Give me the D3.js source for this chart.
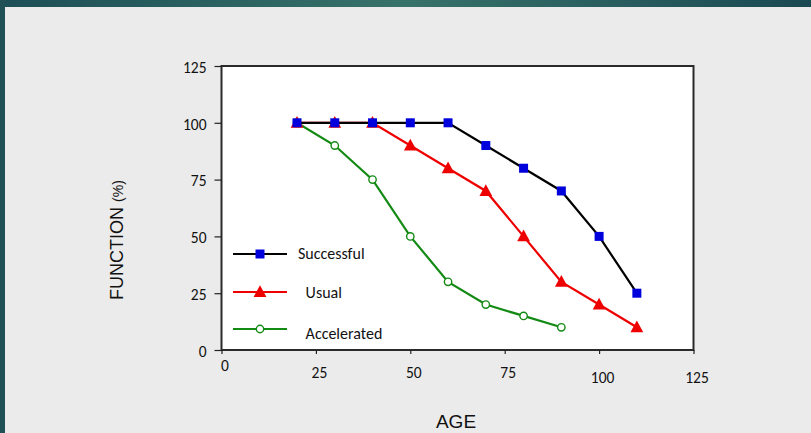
<!DOCTYPE html>
<html><head><meta charset="utf-8">
<script src="https://cdn.jsdelivr.net/npm/d3@7"></script>
<style>
html,body{margin:0;padding:0;background:#ebebeb;}
svg{display:block;}
</style></head>
<body>
<svg id="c" width="811" height="433"></svg>
<script>
// ---- data ----
const ages = [20, 30, 40, 50, 60, 70, 80, 90, 100, 110];
const successful = [100, 100, 100, 100, 100, 90, 80, 70, 50, 25];
const usual = [100, 100, 100, 90, 80, 70, 50, 30, 20, 10];
const accelerated = [100, 90, 75, 50, 30, 20, 15, 10];
const seriesNames = ["Successful", "Usual", "Accelerated"];
const xTicks = [0, 25, 50, 75, 100, 125];
const yTicks = [0, 25, 50, 75, 100, 125];

const svg = d3.select("#c");
const W = 811, H = 433;

// background & frame
const defs = svg.append("defs");
const g1 = defs.append("linearGradient").attr("id","topg").attr("x1","0").attr("x2","1");
g1.append("stop").attr("offset","0").attr("stop-color","#1d4f56");
g1.append("stop").attr("offset","0.5").attr("stop-color","#37726a");
g1.append("stop").attr("offset","1").attr("stop-color","#1b4953");
svg.append("rect").attr("x",0).attr("y",0).attr("width",W).attr("height",H).attr("fill","#ebebeb");
svg.append("rect").attr("x",0).attr("y",0).attr("width",W).attr("height",7).attr("fill","url(#topg)");
svg.append("rect").attr("x",0).attr("y",0).attr("width",5).attr("height",H).attr("fill","#1f5157");

const x = d3.scaleLinear().domain([0,125]).range([221.5,693.5]);
const y = d3.scaleLinear().domain([0,125]).range([350,66]);

// plot area
svg.append("rect").attr("x",x(0)).attr("y",y(125)).attr("width",x(125)-x(0)).attr("height",y(0)-y(125))
  .attr("fill","#ffffff").attr("stroke","#2a2a2a").attr("stroke-width",2);

const tickFont = "Carlito, Lato, 'Open Sans', sans-serif";

// y axis
const yAxis = d3.axisLeft(y).tickValues(yTicks).tickSize(7).tickPadding(8).tickSizeOuter(0);
const ya = svg.append("g").attr("transform",`translate(${x(0)},0)`).call(yAxis);
ya.select(".domain").remove();
ya.selectAll(".tick line").attr("stroke","#222").attr("stroke-width",1.2);
ya.selectAll(".tick text").attr("font-family",tickFont).attr("font-size",15.5).attr("fill","#111")
  .attr("dy","0.4em");

// x axis
const xLabelDrop = [0, 7, 7, 7, 12, 12];
const xAxis = d3.axisBottom(x).tickValues(xTicks).tickSize(4).tickPadding(6).tickSizeOuter(0);
const xa = svg.append("g").attr("transform",`translate(0,${y(0)})`).call(xAxis);
xa.select(".domain").remove();
xa.selectAll(".tick line").attr("stroke","#222").attr("stroke-width",1.2);
xa.selectAll(".tick text").attr("font-family",tickFont).attr("font-size",15.5).attr("fill","#111")
  .attr("x",3).attr("dy",(d,i)=> (0.7*15.5 + xLabelDrop[i]) + "px");

// axis titles
svg.append("text").attr("x",456).attr("y",428).attr("text-anchor","middle")
  .attr("font-family","'Liberation Sans', Arial, sans-serif").attr("font-size",19).attr("fill","#111").text("AGE");
const yt = svg.append("text").attr("transform","translate(123,240) rotate(-90)").attr("text-anchor","middle")
  .attr("font-family","'Liberation Sans', Arial, sans-serif").attr("fill","#111");
yt.append("tspan").attr("font-size",18).text("FUNCTION ");
yt.append("tspan").attr("font-size",14).text("(%)");

// series
const lineGen = d3.line().x(d=>x(d[0])).y(d=>y(d[1]));
const series = [
  {name: seriesNames[2], vals: accelerated, color:"#138a13", marker:"circle"},
  {name: seriesNames[1], vals: usual, color:"#ee0000", marker:"triangle"},
  {name: seriesNames[0], vals: successful, color:"#000000", marker:"square"}
];
const triPath = (cx,cy,s)=>`M${cx},${cy-s*0.62}L${cx+s*0.58},${cy+s*0.45}L${cx-s*0.58},${cy+s*0.45}Z`;
function drawMarker(g, type, cx, cy){
  if(type==="square"){
    g.append("rect").attr("x",cx-4.5).attr("y",cy-4.5).attr("width",9).attr("height",9).attr("fill","#0000dd");
  } else if(type==="triangle"){
    g.append("path").attr("d",triPath(cx,cy,11)).attr("fill","#ee0000");
  } else {
    g.append("circle").attr("cx",cx).attr("cy",cy).attr("r",3.7).attr("fill","#ffffff")
      .attr("stroke","#138a13").attr("stroke-width",1.4);
  }
}
series.forEach(s=>{
  const pts = s.vals.map((v,i)=>[ages[i], v]);
  const g = svg.append("g");
  g.append("path").attr("d",lineGen(pts)).attr("fill","none").attr("stroke",s.color).attr("stroke-width",2.2);
  pts.forEach(p=>drawMarker(g, s.marker, x(p[0]), y(p[1])));
});

// legend
const legend = [
  {name: seriesNames[0], color:"#000000", marker:"square", ly:254, tx:298, ty:259},
  {name: " " + seriesNames[1], color:"#ee0000", marker:"triangle", ly:292, tx:302, ty:298},
  {name: " " + seriesNames[2], color:"#138a13", marker:"circle", ly:329, tx:302, ty:339}
];
legend.forEach(l=>{
  const g = svg.append("g");
  g.append("line").attr("x1",233).attr("x2",287).attr("y1",l.ly).attr("y2",l.ly).attr("stroke",l.color).attr("stroke-width",2.2);
  drawMarker(g, l.marker, 260, l.ly);
  g.append("text").attr("x",l.tx).attr("y",l.ty).attr("font-family",tickFont).attr("font-size",16)
    .attr("fill","#111").attr("xml:space","preserve").style("white-space","pre").text(l.name);
});
</script>
</body></html>
